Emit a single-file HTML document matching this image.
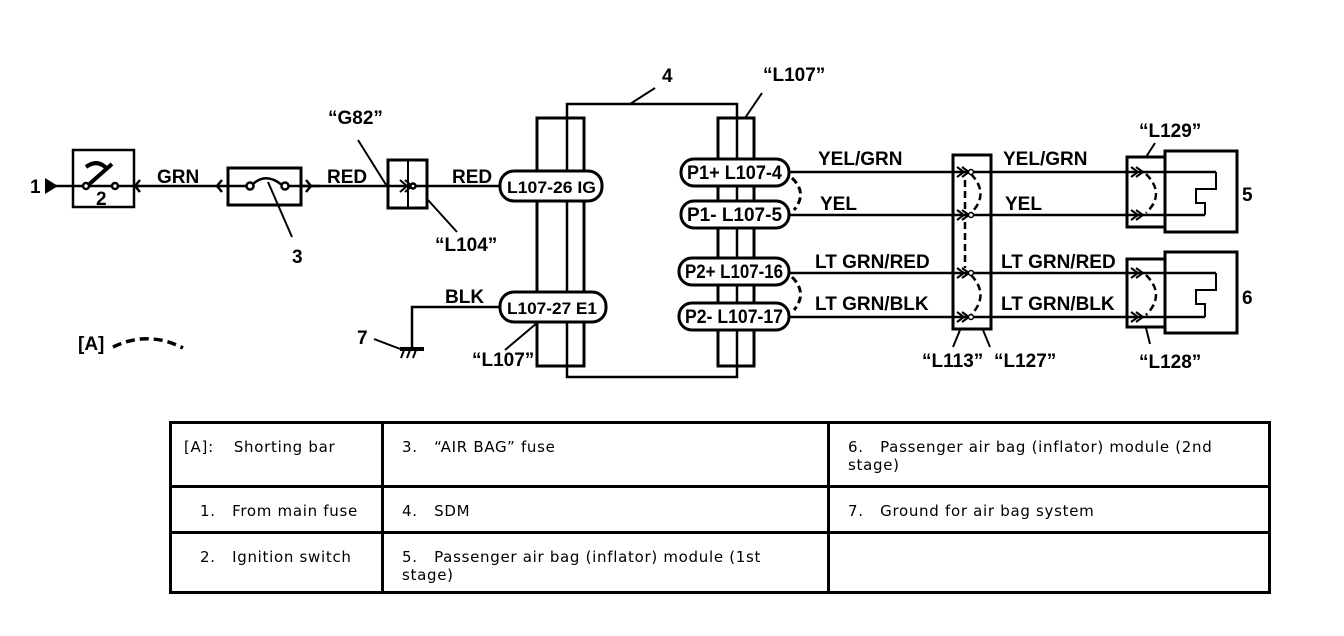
<!DOCTYPE html>
<html><head><meta charset="utf-8"><style>
body{margin:0;background:#fff;width:1344px;height:636px;overflow:hidden}
svg text{font-family:"Liberation Sans",Arial,sans-serif;font-weight:bold;font-size:19px;fill:#000}
table{position:absolute;left:169px;top:421px;width:1102px;height:173px;border-collapse:collapse;table-layout:fixed;font-family:"DejaVu Sans",Verdana,sans-serif;font-size:15px;letter-spacing:0.7px}
td{border:3px solid #000;vertical-align:top;padding:14px 0 0 0;line-height:18px}
</style></head><body>
<svg width="1344" height="636" style="position:absolute;left:0;top:0" fill="none" stroke="#000" stroke-width="2.5">
<text x="30" y="193" stroke="none">1</text>
<polygon points="45,178 45,194 58,186" fill="#000" stroke="none"/>
<line x1="50" y1="186" x2="140" y2="186"/>
<rect x="73" y="150" width="61" height="57" stroke-width="2.5"/>
<path d="M86,187 L112,164 M86,167 Q98,158 108,170" stroke-width="4"/>
<circle cx="86" cy="186" r="3" fill="#fff"/><circle cx="115" cy="186" r="3" fill="#fff"/>
<text x="96" y="205" stroke="none">2</text>
<path d="M140,180 L135,186 L140,192"/>
<text x="157" y="183" stroke="none">GRN</text>
<line x1="134" y1="186" x2="228" y2="186"/>
<path d="M222,180 L217,186 L222,192"/>
<rect x="228" y="168" width="73" height="37" stroke-width="3"/>
<line x1="228" y1="186" x2="250" y2="186"/><line x1="285" y1="186" x2="320" y2="186"/>
<circle cx="250" cy="186" r="3.5" fill="#fff"/><circle cx="285" cy="186" r="3.5" fill="#fff"/>
<path d="M253,184 Q266,172 282,185"/>
<path d="M306,180 L311,186 L306,192"/>
<line x1="268" y1="182" x2="292" y2="237" stroke-width="2"/>
<text x="292" y="263" stroke="none">3</text>
<text x="327" y="183" stroke="none">RED</text>
<line x1="301" y1="186" x2="500" y2="186"/>
<rect x="388" y="160" width="39" height="48" stroke-width="3"/>
<line x1="408" y1="160" x2="408" y2="208" stroke-width="2"/>
<path d="M400,180 L407,186 L400,192 M405,180 L412,186 L405,192" stroke-width="2"/>
<circle cx="413" cy="186" r="2.5" fill="#fff"/>
<text x="328" y="124" stroke="none">“G82”</text>
<line x1="358" y1="140" x2="388" y2="188" stroke-width="2"/>
<line x1="428" y1="200" x2="457" y2="232" stroke-width="2"/>
<text x="435" y="251" stroke="none">“L104”</text>
<text x="452" y="183" stroke="none">RED</text>
<polyline points="567,366 567,104 737,104 737,377 567,377 567,366"/>
<rect x="537" y="118" width="47" height="248" stroke-width="3"/>
<rect x="718" y="118" width="36" height="248" stroke-width="3"/>
<text x="662" y="82" stroke="none">4</text>
<line x1="655" y1="88" x2="630" y2="104" stroke-width="2"/>
<text x="763" y="81" stroke="none">“L107”</text>
<line x1="762" y1="93" x2="745" y2="118" stroke-width="2"/>
<rect x="500" y="171" width="102" height="30" rx="14" fill="#fff" stroke-width="3"/>
<text x="507" y="193" stroke="none" style="font-size:17px" textLength="89" lengthAdjust="spacingAndGlyphs">L107-26  IG</text>
<rect x="500" y="292" width="106" height="30" rx="14" fill="#fff" stroke-width="3"/>
<text x="507" y="314" stroke="none" style="font-size:17px" textLength="90" lengthAdjust="spacingAndGlyphs">L107-27  E1</text>
<text x="445" y="303" stroke="none">BLK</text>
<polyline points="500,307 412,307 412,348"/>
<line x1="400" y1="349" x2="424" y2="349" stroke-width="4"/>
<path d="M404,350 L401,358 M410,350 L407,358 M416,350 L413,358" stroke-width="2"/>
<text x="357" y="344" stroke="none">7</text>
<line x1="374" y1="339" x2="403" y2="350" stroke-width="2"/>
<text x="472" y="366" stroke="none">“L107”</text>
<line x1="505" y1="350" x2="537" y2="323" stroke-width="2"/>
<text x="78" y="350" stroke="none">[A]</text>
<path d="M113,347 Q148,330 183,348" stroke-width="3.5" stroke-dasharray="9,5"/>
<g stroke-width="3" fill="#fff">
<rect x="681" y="159" width="108" height="27" rx="13"/>
<rect x="681" y="201" width="108" height="27" rx="13"/>
<rect x="679" y="258" width="110" height="27" rx="13"/>
<rect x="679" y="303" width="110" height="27" rx="13"/>
</g>
<g stroke="none" style="font-size:17px">
<text x="687" y="179" textLength="95" lengthAdjust="spacingAndGlyphs">P1+  L107-4</text>
<text x="687" y="221" textLength="95" lengthAdjust="spacingAndGlyphs">P1-   L107-5</text>
<text x="685" y="278" textLength="98" lengthAdjust="spacingAndGlyphs">P2+ L107-16</text>
<text x="685" y="323" textLength="98" lengthAdjust="spacingAndGlyphs">P2- L107-17</text>
</g>
<path d="M792,178 Q808,193 794,210" stroke-width="3" stroke-dasharray="7,4"/>
<path d="M792,277 Q808,293 794,310" stroke-width="3" stroke-dasharray="7,4"/>
<line x1="789" y1="172" x2="1216" y2="172"/>
<line x1="789" y1="215" x2="1205" y2="215"/>
<line x1="789" y1="273" x2="1216" y2="273"/>
<line x1="789" y1="317" x2="1205" y2="317"/>
<polyline points="1216,172 1216,189 1196,189 1196,203 1205,203 1205,215" stroke-width="2"/>
<polyline points="1216,273 1216,290 1196,290 1196,304 1205,304 1205,317" stroke-width="2"/>
<g stroke="none">
<text x="818" y="165">YEL/GRN</text><text x="820" y="210">YEL</text>
<text x="815" y="268">LT GRN/RED</text><text x="815" y="310">LT GRN/BLK</text>
<text x="1003" y="165">YEL/GRN</text><text x="1005" y="210">YEL</text>
<text x="1001" y="268">LT GRN/RED</text><text x="1001" y="310">LT GRN/BLK</text>
</g>
<rect x="953" y="155" width="38" height="174" stroke-width="3"/>
<g stroke-width="2">
<path d="M957,167 L964,172 L957,177 M962,167 L969,172 L962,177"/>
<path d="M957,210 L964,215 L957,220 M962,210 L969,215 L962,220"/>
<path d="M957,268 L964,273 L957,278 M962,268 L969,273 L962,278"/>
<path d="M957,312 L964,317 L957,322 M962,312 L969,317 L962,322"/>
</g>
<circle cx="971" cy="172" r="2.5" fill="#fff" stroke-width="1.5"/><circle cx="971" cy="215" r="2.5" fill="#fff" stroke-width="1.5"/>
<circle cx="971" cy="273" r="2.5" fill="#fff" stroke-width="1.5"/><circle cx="971" cy="317" r="2.5" fill="#fff" stroke-width="1.5"/>
<g stroke-width="2.5" stroke-dasharray="7,4">
<path d="M971,174 Q990,194 971,213"/><path d="M971,275 Q990,295 971,315"/>
<path d="M965,180 L965,210 M965,222 L965,268"/>
</g>
<text x="922" y="367" stroke="none">“L113”</text>
<text x="994" y="367" stroke="none">“L127”</text>
<line x1="953" y1="347" x2="960" y2="330" stroke-width="2"/>
<line x1="990" y1="347" x2="983" y2="330" stroke-width="2"/>
<rect x="1127" y="157" width="38" height="70" stroke-width="3"/>
<rect x="1165" y="151" width="72" height="81" stroke-width="3"/>
<rect x="1127" y="259" width="38" height="68" stroke-width="3"/>
<rect x="1165" y="252" width="72" height="81" stroke-width="3"/>
<g stroke-width="2">
<path d="M1131,167 L1138,172 L1131,177 M1136,167 L1143,172 L1136,177"/>
<path d="M1131,210 L1138,215 L1131,220 M1136,210 L1143,215 L1136,220"/>
<path d="M1131,268 L1138,273 L1131,278 M1136,268 L1143,273 L1136,278"/>
<path d="M1131,312 L1138,317 L1131,322 M1136,312 L1143,317 L1136,322"/>
</g>
<g stroke-width="2.5" stroke-dasharray="7,4">
<path d="M1146,174 Q1166,194 1146,213"/><path d="M1146,275 Q1166,295 1146,315"/>
</g>
<text x="1242" y="201" stroke="none">5</text>
<text x="1242" y="304" stroke="none">6</text>
<text x="1139" y="137" stroke="none">“L129”</text>
<line x1="1155" y1="143" x2="1146" y2="157" stroke-width="2"/>
<text x="1139" y="368" stroke="none">“L128”</text>
<line x1="1150" y1="344" x2="1146" y2="328" stroke-width="2"/>
</svg>
<table>
<colgroup><col style="width:212px"><col style="width:446px"><col></colgroup>
<tr style="height:64px"><td><span style="padding-left:12px">[A]:</span><span style="padding-left:20px">Shorting bar</span></td>
<td style="padding-left:18px">3.&nbsp;&nbsp;&nbsp;“AIR BAG” fuse</td>
<td style="padding-left:18px;padding-right:30px">6.&nbsp;&nbsp;&nbsp;Passenger air bag (inflator) module (2nd<br>stage)</td></tr>
<tr style="height:46px"><td style="padding-left:28px">1.&nbsp;&nbsp;&nbsp;From main fuse</td><td style="padding-left:18px">4.&nbsp;&nbsp;&nbsp;SDM</td><td style="padding-left:18px">7.&nbsp;&nbsp;&nbsp;Ground for air bag system</td></tr>
<tr><td style="padding-left:28px">2.&nbsp;&nbsp;&nbsp;Ignition switch</td><td style="padding-left:18px">5.&nbsp;&nbsp;&nbsp;Passenger air bag (inflator) module (1st<br>stage)</td><td></td></tr>
</table>
</body></html>
